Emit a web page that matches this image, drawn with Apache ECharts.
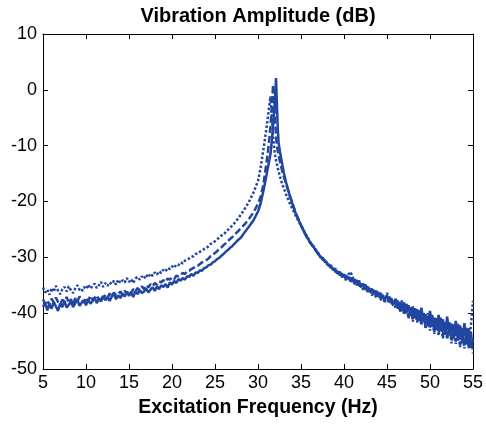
<!DOCTYPE html>
<html>
<head>
<meta charset="utf-8">
<script src="https://cdn.jsdelivr.net/npm/echarts@6/dist/echarts.min.js"></script>
<style>html,body{margin:0;padding:0;background:#fff;}#c{width:486px;height:424px;}</style>
</head>
<body>
<div id="c"></div>
<script>
// Frequencies (Hz)
var freqLow = [5,5.25,5.5,5.75,6,6.25,6.5,6.75,7,7.25,7.5,7.75,8,8.25,8.5,8.75,9,9.25,9.5,9.75,10,10.25,10.5,10.75,11,11.25,11.5,11.75,12,12.25,12.5,12.75,13,13.25,13.5,13.75,14,14.25,14.5,14.75,15,15.25,15.5,15.75,16,16.25,16.5,16.75,17,17.25,17.5,17.75,18,18.25,18.5,18.75,19,19.25,19.5,19.75,20,20.25,20.5,20.75,21,21.25,21.5,21.75,22,22.25,22.5,22.75,23,23.25,23.5,23.75,24,24.25,24.5,24.75,25,25.25,25.5,25.75,26,26.25,26.5,26.75,27,27.25,27.5,27.75];
var freqPeak = [28,28.5,29,29.5,30,30.3,30.6,30.9,31.1,31.3,31.45,31.6,31.75,31.9,32,32.1,32.2,32.3,32.4,32.55,32.7,32.85,33,33.25,33.5,33.75,34,34.25,34.5,34.75,35];
var freqHigh = [35.25,35.5,35.75,36,36.25,36.5,36.75,37,37.25,37.5,37.75,38,38.25,38.5,38.75,39,39.25,39.5,39.75,40,40.25,40.5,40.75,41,41.25,41.5,41.75,42,42.25,42.5,42.75,43,43.25,43.5,43.75,44,44.25,44.5,44.75,45,45.25,45.5,45.75,46,46.25,46.5,46.75,47,47.25,47.5,47.75,48,48.25,48.5,48.75,49,49.25,49.5,49.75,50,50.25,50.5,50.75,51,51.25,51.5,51.75,52,52.25,52.5,52.75,53,53.25,53.5,53.75,54,54.25,54.5,54.75,55];

// Solid curve (dB)
var solidLow = [-38.9,-38.1,-39.5,-38.4, -39.2,-38.0,-38.8,-39.6, -38.3,-38.9,-37.8,-39.0, -38.5,-37.9,-38.9,-38.2, -37.6,-38.7,-38.1,-37.7, -38.6,-37.5,-38.3,-37.9, -37.2,-38.2,-37.4,-37.9, -36.9,-37.7,-37.1,-37.8, -37.0,-36.6,-37.5,-36.8, -37.3,-36.5,-37.0,-36.2, -36.9,-36.4,-37.1,-36.0, -36.6,-35.9,-36.4,-36.1, -35.6,-36.3,-35.8,-35.4, -36.0,-35.2,-35.7,-35.0, -35.3,-34.8,-35.4,-34.5, -34.9,-34.2,-34.6,-33.9, -34.2,-33.7,-34.0,-33.4, -33.5,-33.0,-33.3,-32.7, -32.8,-32.3,-32.4,-31.9, -31.8,-31.4,-31.3,-30.9, -30.7,-30.3,-30.1,-29.7, -29.4,-29.0,-28.7,-28.3, -28.0,-27.6,-27.2,-26.8];
var solidPeak = [-26.5,-25.4,-24.4,-23.3,-21.8,-20.4,-18.3,-16.0,-14.3,-12.8,-11.5,-9.3,-6.5,-3.5,-0.8,2.1,-2.5,-7.0,-9.5,-11.0,-12.3,-13.6,-14.8,-16.5,-17.9,-19.2,-20.4,-21.6,-22.6,-23.4,-24.3];
var solidHigh = [-25.1,-25.9,-26.6, -27.1,-27.8,-28.2,-28.9, -29.3,-29.9,-30.1,-30.7, -31.0,-31.5,-31.6,-32.2, -32.3,-32.9,-32.6,-33.4, -33.3,-33.9,-33.5,-34.3, -34.0,-34.8,-34.1,-35.0, -35.3,-34.7,-35.8,-35.2, -36.2,-35.6,-36.6,-36.0, -36.9,-36.4,-37.2,-37.5, -36.8,-37.9,-37.3,-38.4, -37.4,-39.2,-38.0,-39.6, -38.1,-40.0,-38.6,-40.5, -38.8,-40.9,-39.3,-41.4, -39.0,-41.6,-40.2,-42.3, -39.6,-42.4,-40.8,-43.0, -40.3,-43.2,-41.1,-43.9, -40.6,-44.0,-41.9,-44.6, -41.4,-44.9,-42.2,-45.3, -41.8,-45.6,-42.7,-46.2, -44.6];

// Dashed curve (dB)
var dashedLow = [-37.5,-38.3,-37.7,-38.6, -37.4,-38.1,-37.2,-38.0, -38.4,-37.6,-37.9,-37.1, -38.2,-37.5,-38.5,-37.3, -37.9,-37.0,-37.7,-38.1, -37.2,-37.8,-36.9,-37.6, -37.3,-36.8,-37.7,-36.9, -37.4,-36.7,-37.2,-36.5, -37.0,-36.3,-36.8,-36.6, -36.1,-36.7,-36.0,-36.5, -35.9,-36.4,-35.7,-36.1, -35.5,-35.9,-35.2,-35.7, -35.0,-35.4,-34.8,-35.2, -34.6,-34.9,-34.3,-34.5, -34.1,-34.4,-33.8,-34.0, -33.6,-33.9,-33.3,-33.4, -33.1,-32.8,-33.0,-32.5, -32.4,-32.1,-31.9,-31.6, -31.5,-31.2,-30.9,-30.8, -30.5,-30.2,-29.8,-29.6, -29.2,-28.9,-28.5,-28.2, -27.8,-27.5,-27.1,-26.7, -26.4,-26.0,-25.6,-25.2];
var dashedPeak = [-24.8,-24.0,-23.0,-21.9,-20.4,-19.2,-17.2,-14.0,-11.8,-9.0,-6.5,-3.5,0.9,-3.0,-6.0,-8.5,-10.0,-11.0,-11.8,-12.8,-13.8,-14.7,-15.5,-16.8,-18.0,-19.2,-20.3,-21.4,-22.4,-23.3,-24.2];
var dashedHigh = [-25.0,-25.8,-26.5, -27.3,-27.6,-28.4,-28.7, -29.5,-29.7,-30.4,-30.5, -31.2,-31.3,-32.0,-31.8, -32.6,-32.4,-33.2,-32.9, -33.7,-33.2,-34.1,-33.6, -34.6,-33.9,-34.9,-34.4, -35.0,-35.6,-34.9,-35.9, -35.8,-36.5,-35.9,-36.9, -36.5,-37.3,-36.6,-37.8, -37.1,-38.1,-37.6,-38.7, -38.9,-37.6,-39.8,-38.3, -40.1,-38.2,-40.7,-39.0, -41.0,-39.1,-41.7,-39.5, -41.9,-39.7,-42.6,-40.4, -42.6,-40.3,-43.4,-40.9, -43.5,-40.8,-44.1,-41.6, -44.3,-41.4,-45.0,-42.0, -45.1,-41.9,-45.8,-42.8, -46.0,-42.5,-46.4,-43.1, -47.2];

// Dotted curve (dB)
var dottedLow = [-35.4,-36.3,-35.8,-36.7, -35.5,-36.2,-35.1,-36.0, -36.6,-35.7,-35.3,-36.1, -35.2,-35.9,-36.4,-35.6, -35.0,-35.8,-36.1,-35.3, -35.7,-34.9,-35.6,-35.2, -34.7,-35.5,-35.0,-34.4, -35.3,-34.6,-35.1,-34.5, -34.8,-34.2,-34.9,-34.0, -34.6,-34.1,-34.5,-33.7, -34.4,-33.9,-34.6,-33.8, -33.5,-34.0,-33.4,-33.8, -33.1,-33.6,-32.9,-33.3, -32.7,-33.1,-32.5,-32.8, -32.2,-32.5,-31.9,-32.1, -31.6,-31.9,-31.3,-31.4, -30.9,-31.1,-30.6,-30.4, -30.2,-29.9,-29.8,-29.4, -29.3,-29.0,-28.8,-28.5, -28.3,-28.0,-27.6,-27.4, -27.1,-26.8,-26.4,-26.1, -25.9,-25.5,-25.1,-24.7, -24.3,-23.9,-23.4,-22.9];
var dottedPeak = [-22.4,-21.2,-19.9,-18.3,-16.3,-14.0,-11.0,-7.8,-5.5,-3.0,-1.2,-4.5,-8.3,-10.8,-11.8,-12.6,-13.3,-14.0,-14.6,-15.5,-16.3,-17.0,-17.6,-18.7,-19.6,-20.5,-21.3,-22.1,-22.9,-23.6,-24.4];
var dottedHigh = [-24.9,-25.7,-26.4, -27.0,-27.9,-28.0,-28.8, -29.2,-30.0,-29.9,-30.8, -30.8,-31.7,-31.4,-32.4, -32.0,-33.1,-32.5,-33.6, -33.0,-34.2,-33.1,-32.6, -33.5,-34.5,-35.0,-34.2, -34.8,-35.9,-35.4,-36.2, -35.5,-36.8,-36.1,-37.3, -36.2,-37.7,-36.9,-38.2, -36.4,-37.0,-38.5,-37.8, -39.1,-38.0,-39.6,-37.7, -40.3,-38.5,-40.9,-38.8, -41.5,-39.2,-41.2,-39.6, -42.2,-40.1,-42.8,-40.0, -43.1,-40.6,-43.7,-40.9, -44.0,-41.3,-44.5,-41.5, -44.7,-41.6,-45.4,-42.3, -45.5,-42.2,-46.1,-42.6, -46.3,-43.0,-45.2,-42.4, -37.8];

var xTicks = [5,10,15,20,25,30,35,40,45,50,55];
var yTicks = [-50,-40,-30,-20,-10,0,10];

var titleText = 'Vibration Amplitude (dB)';
var xName = 'Excitation Frequency (Hz)';

function pairs(fs, vs) { var out = []; for (var i = 0; i < fs.length; i++) out.push([fs[i], vs[i]]); return out; }
var freqAll = freqLow.concat(freqPeak, freqHigh);
var solidAll = pairs(freqAll, solidLow.concat(solidPeak, solidHigh));
var dashedAll = pairs(freqAll, dashedLow.concat(dashedPeak, dashedHigh));
var dottedAll = pairs(freqAll, dottedLow.concat(dottedPeak, dottedHigh));

var BLUE = '#2246a0';
var FONT = 'Liberation Sans, Arial, sans-serif';
var chart = echarts.init(document.getElementById('c'), null, {renderer: 'canvas'});

function baseX(pos, show) {
  return {
    type: 'value', position: pos, min: xTicks[0], max: xTicks[xTicks.length-1], interval: 5,
    axisLine: {show: true, onZero: false, lineStyle: {color: '#000', width: 1}},
    axisTick: {show: true, inside: true, length: 5, lineStyle: {color: '#000'}},
    axisLabel: {show: show, color: '#000', fontSize: 18, fontFamily: FONT, margin: 5},
    splitLine: {show: false}
  };
}
function baseY(pos, show) {
  return {
    type: 'value', position: pos, min: yTicks[0], max: yTicks[yTicks.length-1], interval: 10,
    axisLine: {show: true, onZero: false, lineStyle: {color: '#000', width: 1}},
    axisTick: {show: true, inside: true, length: 5, lineStyle: {color: '#000'}},
    axisLabel: {show: show, color: '#000', fontSize: 18, fontFamily: FONT, margin: 6},
    splitLine: {show: false}
  };
}
var xb = baseX('bottom', true);
xb.name = xName; xb.nameLocation = 'middle'; xb.nameGap = 29;
xb.nameTextStyle = {color: '#000', fontSize: 19.5, fontWeight: 'bold', fontFamily: FONT};
var xt = baseX('top', false);
var yl = baseY('left', true);
var yr = baseY('right', false);

function ser(data, type, width) {
  return {
    type: 'line', data: data, xAxisIndex: 0, yAxisIndex: 0, showSymbol: false, symbol: 'none',
    animation: false, smooth: false,
    lineStyle: {color: BLUE, width: width, type: type}
  };
}

chart.setOption({
  animation: false,
  backgroundColor: '#fff',
  graphic: [{
    type: 'text', x: 258, y: 6,
    style: {text: titleText, fill: '#000', font: 'bold 20px Liberation Sans, Arial, sans-serif', align: 'center', verticalAlign: 'top'}
  }],
  grid: {left: 43, right: 13, top: 34, bottom: 55, containLabel: false},
  xAxis: [xb, xt],
  yAxis: [yl, yr],
  series: [
    ser(solidAll, 'solid', 2.5),
    ser(dashedAll, [7, 3], 2.5),
    ser(dottedAll, [2.5, 2], 2.5)
  ]
});
</script>
</body>
</html>
